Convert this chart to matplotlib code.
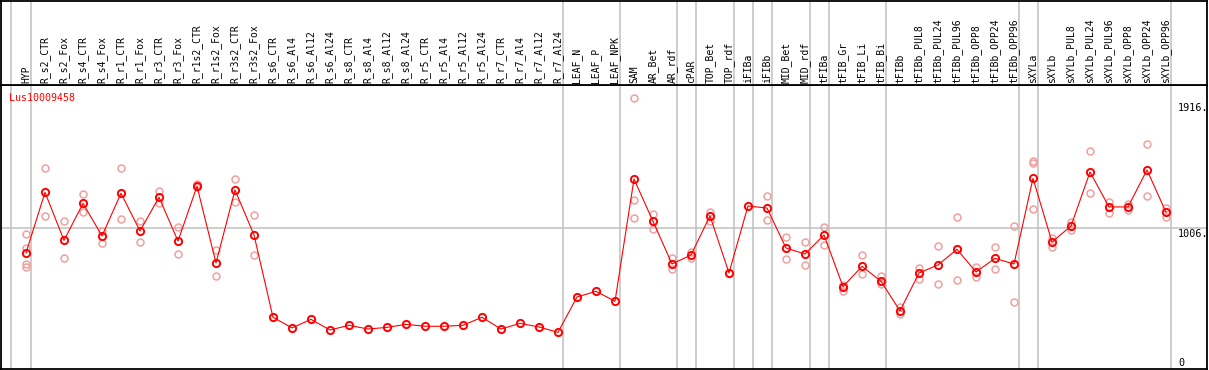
import matplotlib
matplotlib.use("Agg")
import matplotlib.pyplot as plt

# ---------------- data ----------------
gene = "Lus10009458"

categories = [
    "HYP", "R_s2_CTR", "R_s2_Fox", "R_s4_CTR", "R_s4_Fox", "R_r1_CTR", "R_r1_Fox",
    "R_r3_CTR", "R_r3_Fox", "R_r1s2_CTR", "R_r1s2_Fox", "R_r3s2_CTR", "R_r3s2_Fox",
    "R_s6_CTR", "R_s6_Al4", "R_s6_Al12", "R_s6_Al24", "R_s8_CTR", "R_s8_Al4",
    "R_s8_Al12", "R_s8_Al24", "R_r5_CTR", "R_r5_Al4", "R_r5_Al12", "R_r5_Al24",
    "R_r7_CTR", "R_r7_Al4", "R_r7_Al12", "R_r7_Al24", "LEAF_N", "LEAF_P", "LEAF_NPK",
    "SAM", "AR_Bet", "AR_rdf", "cPAR", "TOP_Bet", "TOP_rdf", "iFIBa", "iFIBb",
    "MID_Bet", "MID_rdf", "tFIBa", "tFIB_Gr", "tFIB_Li", "tFIB_Bi", "tFIBb",
    "tFIBb_PUL8", "tFIBb_PUL24", "tFIBb_PUL96", "tFIBb_OPP8", "tFIBb_OPP24",
    "tFIBb_OPP96", "sXYLa", "sXYLb", "sXYLb_PUL8", "sXYLb_PUL24", "sXYLb_PUL96",
    "sXYLb_OPP8", "sXYLb_OPP24", "sXYLb_OPP96",
]

means = [
    823, 1262, 914, 1182, 946, 1255, 982, 1226, 909, 1306, 750, 1279, 953,
    357, 280, 342, 265, 299, 272, 284, 306, 292, 292, 299, 357, 272, 313, 287, 248,
    504, 545, 473,
    1358, 1052, 743, 808, 1091, 678, 1163, 1148, 859, 815,
    953, 579, 726, 618,
    403, 678, 736, 849, 685, 784, 743,
    1363, 902, 1018, 1409, 1156, 1156, 1424, 1117,
]

replicates = [
    [960, 857, 743, 723], [1436, 1091], [1054, 784], [1248, 1117], [982, 897],
    [1436, 1066], [1057, 900], [1274, 1187], [1009, 815], [1322, 1298],
    [844, 656], [1358, 1194], [1096, 808],
    [], [], [], [], [], [], [], [], [], [], [], [], [], [], [], [],
    [], [], [],
    [1943, 1206, 1074], [1105, 999], [784, 705], [828, 789], [1122, 1054],
    [], [], [1233, 1059], [938, 779], [900, 733],
    [1011, 881], [591, 545], [808, 668], [658, 596],
    [434, 379], [716, 634], [873, 598], [1083, 625], [723, 647], [866, 705],
    [1018, 468],
    [1489, 1477, 1141], [933, 868], [1045, 987], [1561, 1255], [1194, 1110],
    [1180, 1132], [1612, 1233], [1151, 1085],
]

# index of the last category of each group (a separator follows it)
group_ends = [0, 28, 31, 34, 35, 37, 38, 39, 41, 42, 45, 52, 53, 60]

tick_values = [1916, 1006, 0]
tick_labels = ["1916.", "1006.", "0"]
ref_line_value = 1006

# ---------------- figure ----------------
W, H = 1209, 370
fig = plt.figure(figsize=(W / 100, H / 100), dpi=100)
fig.patch.set_facecolor("white")

mono = "DejaVu Sans Mono"
grid_gray = "#c0c0c0"
rep_color = "#f0a0a0"

x = list(range(len(categories)))
xlim = (-25 / 19, 1181 / 19)

ax = fig.add_axes([1 / W, (H - 369) / H, 1206 / W, 284 / H])
axl = fig.add_axes([1 / W, (H - 85) / H, 1206 / W, 84.3 / H])

for a in (ax, axl):
    a.set_xlim(*xlim)
    a.set_xticks([])
    a.set_yticks([])
    for s in a.spines.values():
        s.set_linewidth(1.3)
        s.set_color("black")

ax.set_ylim(-17.4, 2039)
axl.set_ylim(85, 0)

# group separators
sep_x = [-0.8] + [g + 0.25 for g in group_ends]
for a in (ax, axl):
    for sx in sep_x:
        a.axvline(sx, color=grid_gray, lw=1.1, zorder=0)

ax.axhline(ref_line_value, color=grid_gray, lw=1.1, zorder=0)

# replicates
for i, reps in enumerate(replicates):
    if reps:
        ax.plot([i] * len(reps), reps, linestyle="none", marker="o",
                markersize=5, markerfacecolor="none", markeredgecolor=rep_color,
                markeredgewidth=1.1, zorder=2)

# mean line
ax.plot(x, means, color="red", lw=0.8, zorder=3)
ax.plot(x, means, linestyle="none", marker="o", markersize=5.2,
        markerfacecolor="none", markeredgecolor="red", markeredgewidth=1.4,
        zorder=4)

# labels
for i, c in enumerate(categories):
    axl.text(i, 83, c, rotation=90, ha="center", va="bottom",
             fontsize=7, family=mono, color="black")

ax.text(-0.88, 1983, gene, color="red", fontsize=7.2, family=mono,
        ha="left", va="top")

for v, lab in zip(tick_values, tick_labels):
    ax.text(60.63, max(v - 10, 60), lab, ha="left", va="top",
            fontsize=7.3, family=mono, color="black")

fig.savefig("out.png", dpi=100)
